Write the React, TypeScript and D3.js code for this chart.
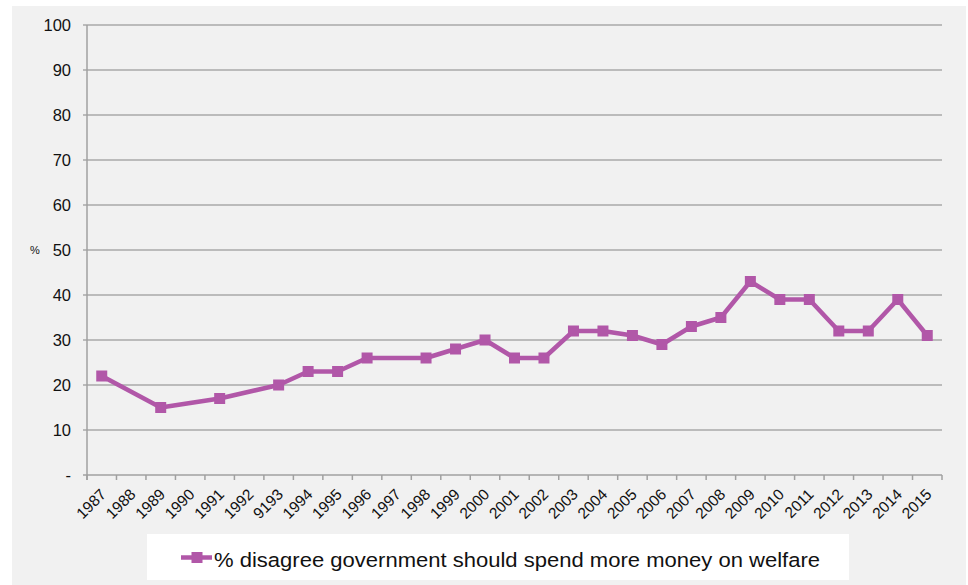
import React from "react";
import * as d3 from "d3";

const years: string[] = [
  "1987", "1988", "1989", "1990", "1991", "1992", "9193", "1994", "1995", "1996",
  "1997", "1998", "1999", "2000", "2001", "2002", "2003", "2004", "2005", "2006",
  "2007", "2008", "2009", "2010", "2011", "2012", "2013", "2014", "2015",
];
const disagree: (number | null)[] = [
  22, null, 15, null, 17, null, 20, 23, 23, 26,
  null, 26, 28, 30, 26, 26, 32, 32, 31, 29,
  33, 35, 43, 39, 39, 32, 32, 39, 31,
];
const yTicks: number[] = [0, 10, 20, 30, 40, 50, 60, 70, 80, 90, 100];
const seriesName = "% disagree government should spend more money on welfare";

const W = 968;
const H = 585;
const plot = { left: 87, right: 942, top: 25, bottom: 475 };
const color = "#b157a8";
const font = "'Liberation Sans', Arial, Helvetica, sans-serif";

export default function App() {
  const x = d3.scaleBand<string>().domain(years).range([plot.left, plot.right]);
  const y = d3.scaleLinear().domain([0, 100]).range([plot.bottom, plot.top]);
  const pts = years
    .map((yr, i) => ({ yr, v: disagree[i] }))
    .filter((d) => d.v !== null) as { yr: string; v: number }[];
  const line = d3
    .line<{ yr: string; v: number }>()
    .x((d) => (x(d.yr) as number) + x.bandwidth() / 2)
    .y((d) => y(d.v));
  const tickXs = years.map((yr) => x(yr) as number).concat([plot.right]);

  return (
    <svg
      width={W}
      height={H}
      style={{ position: "absolute", left: 0, top: 0 }}
      fontFamily={font}
    >
      <rect x={0} y={0} width={W} height={H} fill="#ffffff" />
      <rect x={12} y={6} width={954} height={H - 6} fill="#f1f1f1" />
      {yTicks.map((t) => (
        <g key={t}>
          {t > 0 && (
            <line x1={plot.left - 4} x2={plot.right} y1={y(t)} y2={y(t)} stroke="#a9a9a9" strokeWidth={1.5} />
          )}
          <text x={71} y={y(t)} dy="0.35em" textAnchor="end" fontSize={16.5} fill="#111">
            {t === 0 ? "-" : t}
          </text>
        </g>
      ))}
      <line x1={plot.left} x2={plot.left} y1={plot.top} y2={plot.bottom + 5} stroke="#a0a0a0" strokeWidth={1.5} />
      <line x1={plot.left - 4} x2={plot.right} y1={plot.bottom} y2={plot.bottom} stroke="#a0a0a0" strokeWidth={1.5} />
      {tickXs.map((tx, i) => (
        <line key={i} x1={tx} x2={tx} y1={plot.bottom} y2={plot.bottom + 5} stroke="#a0a0a0" strokeWidth={1.5} />
      ))}
      {years.map((yr) => {
        const cx = (x(yr) as number) + x.bandwidth() / 2 - 1;
        const cy = plot.bottom + 14;
        return (
          <text
            key={yr}
            transform={`translate(${cx},${cy}) rotate(-45)`}
            textAnchor="end"
            dy={9}
            fontSize={15.5}
            fill="#111"
          >
            {yr}
          </text>
        );
      })}
      <text x={35} y={254} textAnchor="middle" fontSize={11} fill="#111">%</text>
      <path d={line(pts) || ""} fill="none" stroke={color} strokeWidth={4.5} strokeLinejoin="round" />
      {pts.map((d) => (
        <rect
          key={d.yr}
          x={(x(d.yr) as number) + x.bandwidth() / 2 - 5.5}
          y={y(d.v) - 5.5}
          width={11}
          height={11}
          fill={color}
        />
      ))}
      <rect x={147} y={534} width={702} height={46} fill="#ffffff" />
      <line x1={181} x2={212} y1={557.5} y2={557.5} stroke={color} strokeWidth={4.5} />
      <rect x={191.5} y={552} width={11} height={11} fill={color} />
      <text x={214} y={567} fontSize={20.5} fill="#111" textLength={606} lengthAdjust="spacingAndGlyphs">{seriesName}</text>
    </svg>
  );
}
